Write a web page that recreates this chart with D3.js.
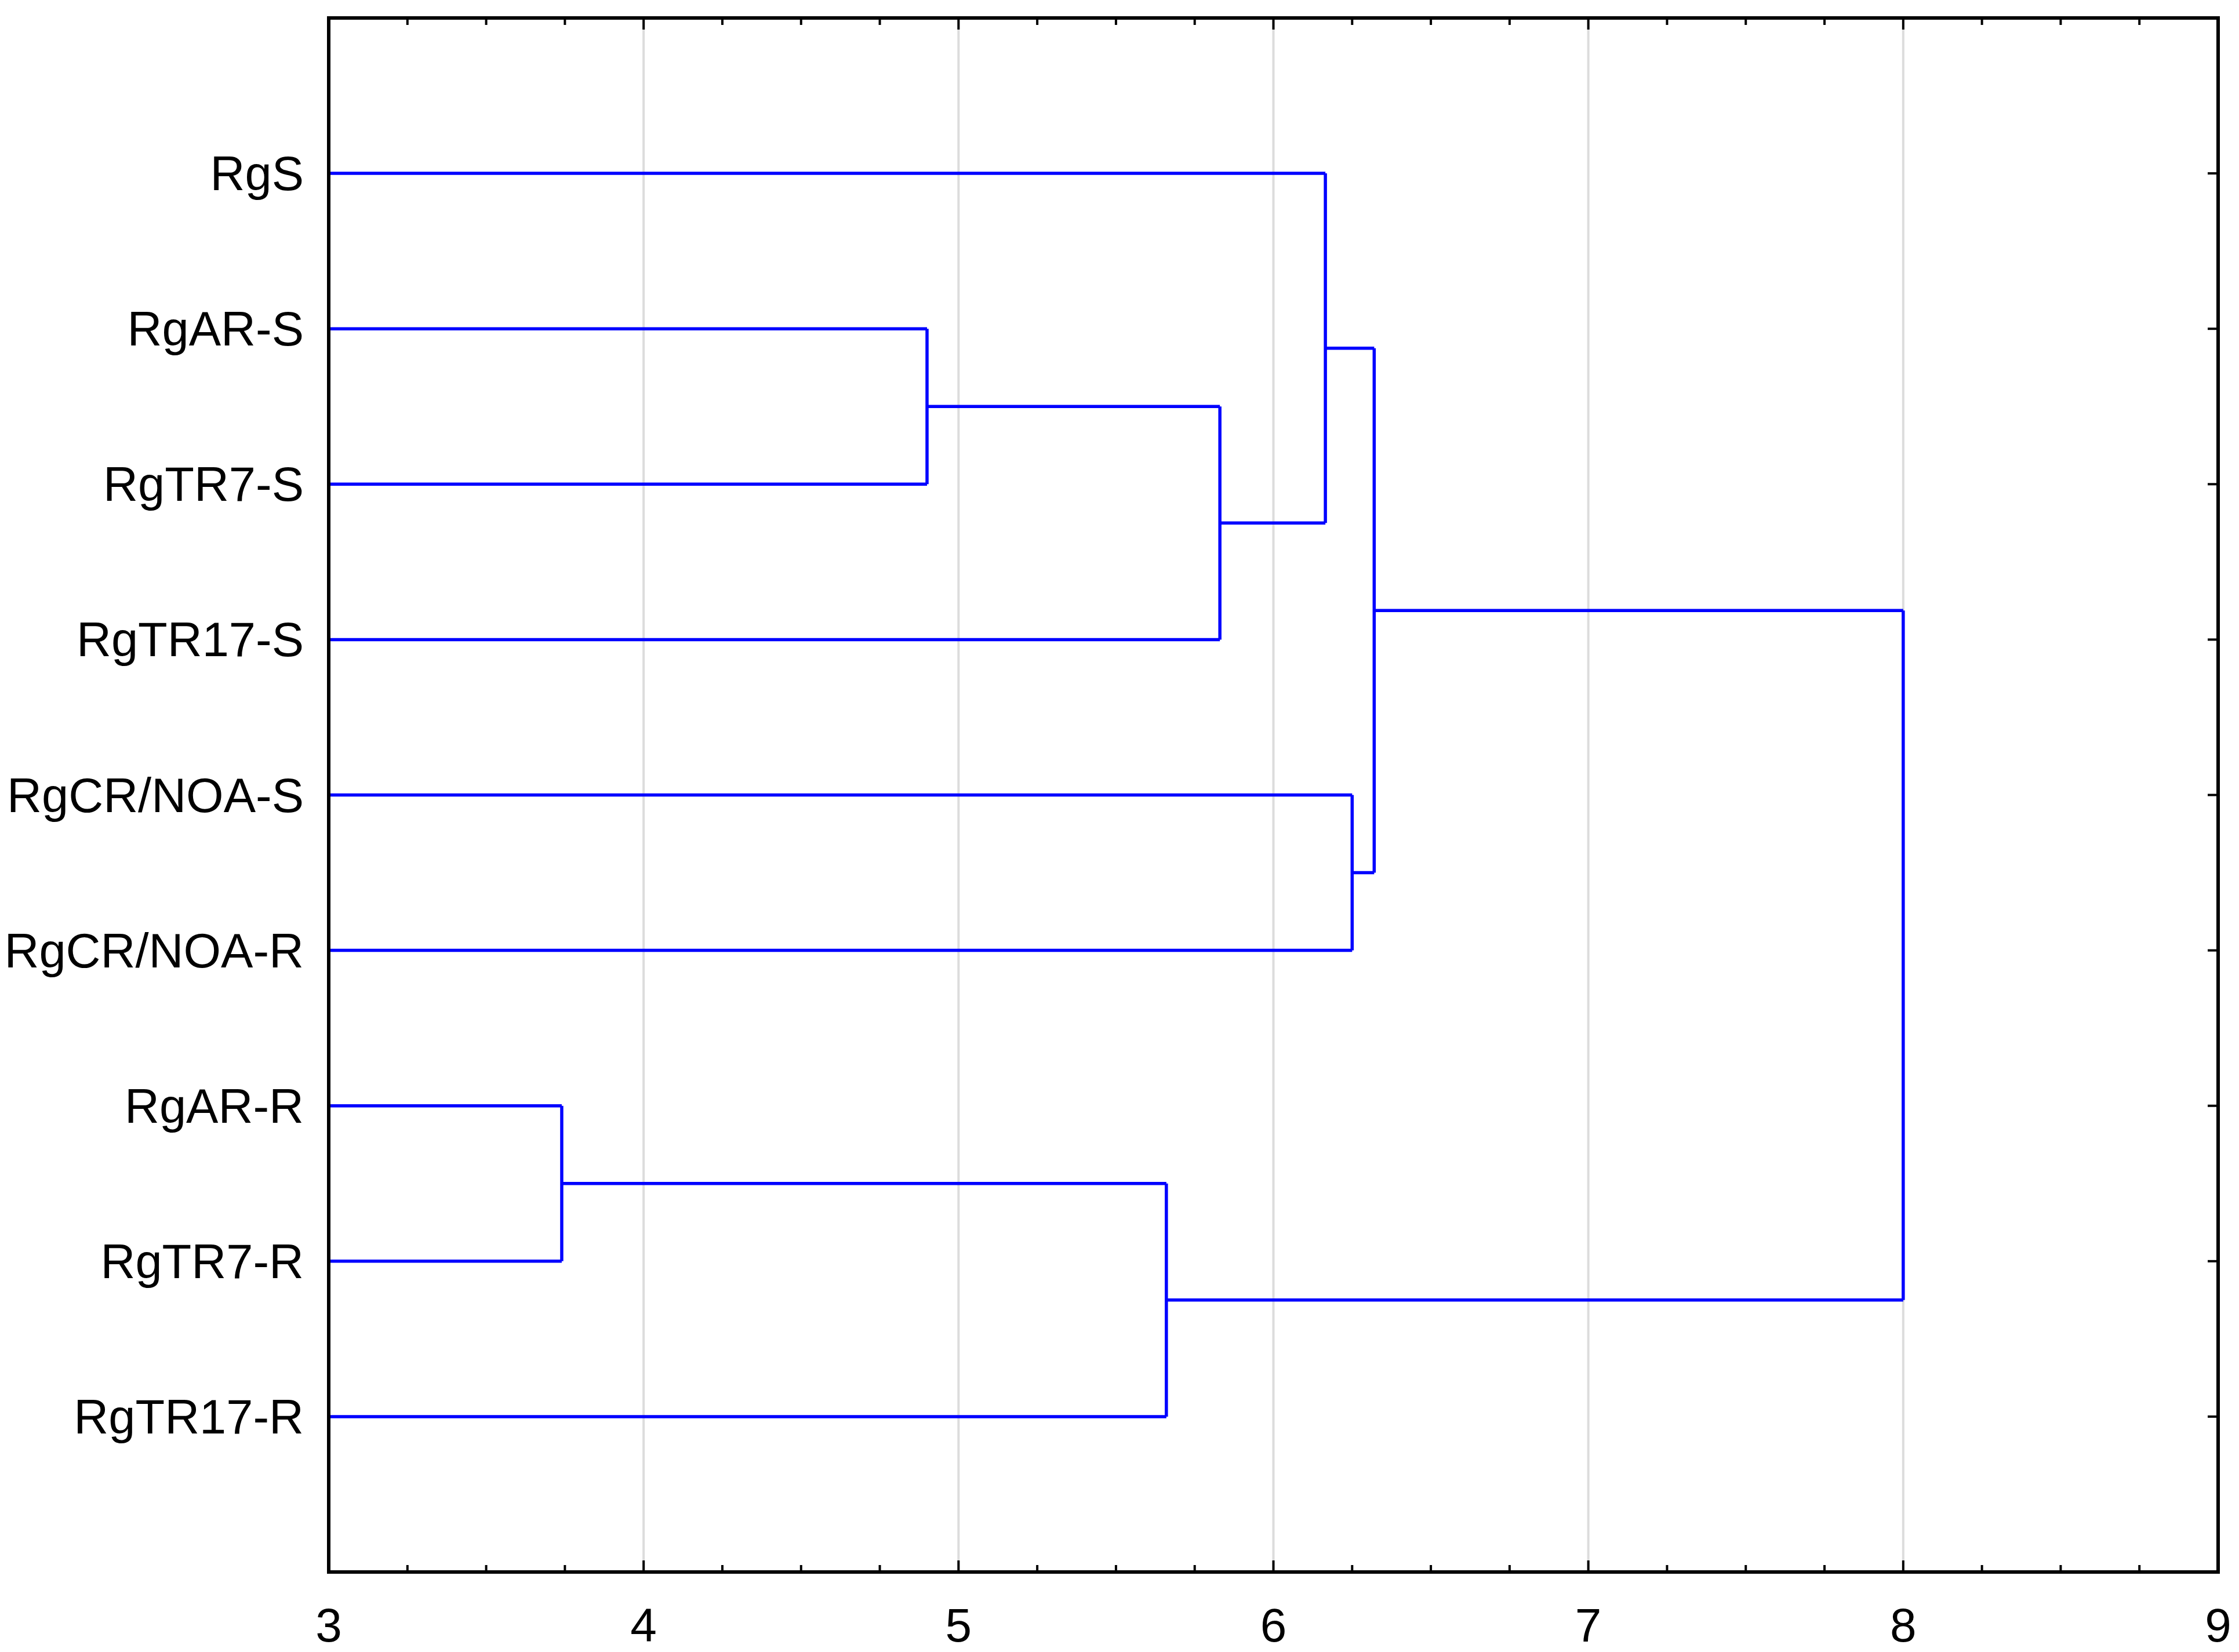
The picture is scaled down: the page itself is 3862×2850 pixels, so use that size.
<!DOCTYPE html><html><head><meta charset="utf-8"><script src="https://cdn.jsdelivr.net/npm/d3@7"></script>
<style>body{margin:0;background:#fff}</style></head><body><script>
const leaves = ["RgS","RgAR-S","RgTR7-S","RgTR17-S","RgCR/NOA-S","RgCR/NOA-R","RgAR-R","RgTR7-R","RgTR17-R"];
// merges: [childA, childB, height]; leaves 0..8, clusters 9..
const merges = [
  [6,7,3.74],
  [1,2,4.90],
  [10,3,5.83],
  [9,8,5.66],
  [0,11,6.165],
  [4,5,6.25],
  [13,14,6.32],
  [15,12,8.0]
];
const xTicks = [3,4,5,6,7,8,9];
const W=3862,H=2850,L=567,R=3826,T=31,B=2712;
const svg=d3.select("body").append("svg").attr("width",W).attr("height",H);
const x=d3.scaleLinear().domain([3,9]).range([L,R]);
const y=d3.scaleLinear().domain([0,10]).range([T,B]);
const font="Liberation Sans, Arial, sans-serif";
svg.append("g").selectAll("line").data(xTicks.slice(1,-1)).join("line")
 .attr("x1",d=>x(d)).attr("x2",d=>x(d)).attr("y1",T).attr("y2",B).attr("stroke","#dcdcdc").attr("stroke-width",4);
const pos=leaves.map((d,i)=>({y:i+1,h:3}));
const g=svg.append("g").attr("fill","none").attr("stroke","#0000ff").attr("stroke-width",5.5);
merges.forEach(([a,b,h])=>{
  const A=pos[a],Bn=pos[b];
  [A,Bn].forEach(c=>g.append("path").attr("d",`M${x(c.h)},${y(c.y)}H${x(h)}`));
  g.append("path").attr("d",`M${x(h)},${y(A.y)}V${y(Bn.y)}`);
  pos.push({y:(A.y+Bn.y)/2,h:h});
});
svg.append("rect").attr("x",L).attr("y",T).attr("width",R-L).attr("height",B-T).attr("fill","none").attr("stroke","#000").attr("stroke-width",6);
const minor=d3.range(3,9.001,0.25);
const tk=svg.append("g").attr("stroke","#000").attr("stroke-width",4);
minor.forEach(v=>{const major=Math.abs(v-Math.round(v))<1e-6;const len=major?20:12;
 tk.append("line").attr("x1",x(v)).attr("x2",x(v)).attr("y1",B).attr("y2",B-len);
 tk.append("line").attr("x1",x(v)).attr("x2",x(v)).attr("y1",T).attr("y2",T+len);});
leaves.forEach((d,i)=>{tk.append("line").attr("x1",R).attr("x2",R-18).attr("y1",y(i+1)).attr("y2",y(i+1));});
svg.append("g").selectAll("text").data(xTicks).join("text").attr("x",d=>x(d)).attr("y",2832)
 .attr("text-anchor","middle").attr("font-family",font).attr("font-size",82).text(d=>d);
svg.append("g").selectAll("text").data(leaves).join("text").attr("x",524).attr("y",(d,i)=>y(i+1)+29)
 .attr("text-anchor","end").attr("font-family",font).attr("font-size",83).text(d=>d);
</script></body></html>
